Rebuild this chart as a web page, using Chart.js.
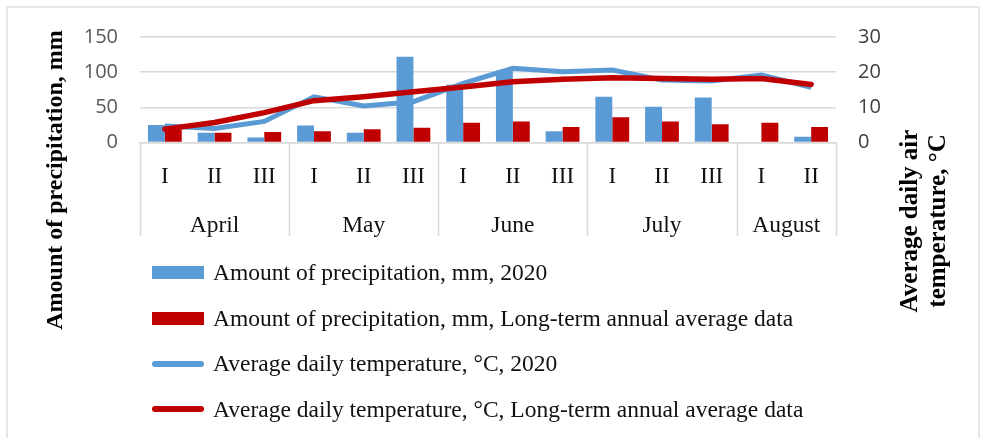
<!DOCTYPE html>
<html>
<head>
<meta charset="utf-8">
<script src="https://cdn.jsdelivr.net/npm/chart.js@4"></script>
<style>
  html, body { margin: 0; padding: 0; background: #fff; }
  #wrap { position: relative; width: 986px; height: 438px; overflow: hidden; }
  #frame { position: absolute; left: 6px; top: 6px; width: 974px; height: 460px; border: 2px solid #e6e6e6; box-sizing: border-box; }
  canvas { position: absolute; left: 0; top: 0; }
  #legend { position: absolute; left: 152px; top: 250px; font-family: 'Liberation Serif', 'Times New Roman', serif; font-size: 23.5px; color: #111; }
  .item { height: 45.5px; display: flex; align-items: center; white-space: nowrap; }
  .swatch { width: 52px; margin-right: 9px; }
</style>
</head>
<body>
<div id="wrap">
  <div id="frame"></div>
  <canvas id="chart" width="986" height="438"></canvas>
  <div id="legend"></div>
</div>
<script>
// data
const periods = ['I', 'II', 'III', 'I', 'II', 'III', 'I', 'II', 'III', 'I', 'II', 'III', 'I', 'II'];
const months = ['April', 'May', 'June', 'July', 'August'];
const monthSpans = [3, 3, 3, 3, 2];

const precip2020 = [25, 14, 7, 24, 14, 122, 82, 102, 16, 65, 51, 64, 0, 8];
const precipLongTerm = [18, 14, 15, 16, 19, 21, 28, 30, 22, 36, 30, 26, 28, 22];
const temp2020 = [4.7, 4.0, 6.0, 13, 10.4, 11.6, 16.8, 21.1, 20.1, 20.6, 17.8, 17.5, 19.2, 15.7];
const tempLongTerm = [3.8, 5.7, 8.5, 11.9, 13, 14.4, 15.8, 17.3, 18, 18.4, 18.2, 18, 18.2, 16.5];

const precipTicks = [0, 50, 100, 150];
const tempTicks = [0, 10, 20, 30];

const BLUE = '#5B9BD5';
const RED = '#C00000';
const GRID = '#d9d9d9';
const SERIF = "'Liberation Serif', 'Times New Roman', serif";

// month row + separators under the I/II/III labels
const monthAxis = {
  id: 'monthAxis',
  afterDraw(chart) {
    const ctx = chart.ctx;
    const x = chart.scales.x;
    const step = (x.right - x.left) / periods.length;
    const top = chart.chartArea.bottom;
    const bottom = 236;
    ctx.save();
    ctx.strokeStyle = GRID;
    ctx.lineWidth = 1.5;
    let idx = 0;
    const edges = [x.getPixelForValue(0) - step / 2];
    monthSpans.forEach(n => {
      idx += n;
      edges.push(x.getPixelForValue(idx - 1) + step / 2);
    });
    edges.forEach(px => {
      ctx.beginPath();
      ctx.moveTo(Math.round(px) + 0.5, top);
      ctx.lineTo(Math.round(px) + 0.5, bottom);
      ctx.stroke();
    });
    ctx.fillStyle = '#111';
    ctx.font = '23.5px ' + SERIF;
    ctx.textAlign = 'center';
    ctx.textBaseline = 'middle';
    months.forEach((m, i) => {
      ctx.fillText(m, (edges[i] + edges[i + 1]) / 2, 226);
    });
    ctx.restore();
  }
};

// rotated axis titles
const axisTitles = {
  id: 'axisTitles',
  afterDraw(chart) {
    const ctx = chart.ctx;
    ctx.save();
    ctx.fillStyle = '#000';
    ctx.font = 'bold 24px ' + SERIF;
    ctx.textAlign = 'center';
    ctx.textBaseline = 'middle';
    ctx.translate(56, 180);
    ctx.rotate(-Math.PI / 2);
    ctx.fillText('Amount of precipitation, mm', 0, 0);
    ctx.restore();

    ctx.save();
    ctx.fillStyle = '#000';
    ctx.font = 'bold 25px ' + SERIF;
    ctx.textAlign = 'center';
    ctx.textBaseline = 'middle';
    ctx.translate(911, 221);
    ctx.rotate(-Math.PI / 2);
    ctx.fillText('Average daily air', 0, 0);
    ctx.fillText('temperature, °C', 0, 28);
    ctx.restore();
  }
};

document.addEventListener('DOMContentLoaded', function () {
  const config = {
    data: {
      labels: periods,
      datasets: [
        {
          type: 'bar',
          label: 'Amount of precipitation, mm, 2020',
          data: precip2020,
          backgroundColor: BLUE,
          yAxisID: 'y',
          order: 2,
          categoryPercentage: 0.68,
          barPercentage: 1.0
        },
        {
          type: 'bar',
          label: 'Amount of precipitation, mm, Long-term annual average data',
          data: precipLongTerm,
          backgroundColor: RED,
          yAxisID: 'y',
          order: 3,
          categoryPercentage: 0.68,
          barPercentage: 1.0
        },
        {
          type: 'line',
          label: 'Average daily temperature, °C, 2020',
          data: temp2020,
          borderColor: BLUE,
          backgroundColor: BLUE,
          borderWidth: 5,
          pointRadius: 0,
          tension: 0,
          yAxisID: 'y1',
          order: 1
        },
        {
          type: 'line',
          label: 'Average daily temperature, °C, Long-term annual average data',
          data: tempLongTerm,
          borderColor: RED,
          backgroundColor: RED,
          borderWidth: 5.5,
          pointRadius: 0,
          tension: 0,
          borderCapStyle: 'round',
          yAxisID: 'y1',
          order: 0
        }
      ]
    },
    options: {
      responsive: false,
      animation: false,
      layout: { padding: { top: 37, left: 0, right: 0, bottom: 0 } },
      plugins: {
        legend: { display: false },
        tooltip: { enabled: false }
      },
      scales: {
        x: {
          grid: { display: false },
          border: { display: true, color: GRID, width: 1.5 },
          ticks: {
            color: '#111',
            padding: 13,
            maxRotation: 0,
            autoSkip: false,
            font: { family: SERIF, size: 23 }
          },
          afterFit: function (scale) { scale.height = 295.5; }
        },
        y: {
          position: 'left',
          min: 0,
          max: 150,
          afterBuildTicks: function (scale) { scale.ticks = precipTicks.map(v => ({ value: v })); },
          grid: { color: GRID, lineWidth: 1.5, drawTicks: false },
          border: { display: false },
          ticks: {
            color: '#595959',
            padding: 22,
            font: { family: "'Open Sans', sans-serif", size: 20 }
          },
          afterFit: function (scale) { scale.width = 140; }
        },
        y1: {
          position: 'right',
          min: 0,
          max: 30,
          afterBuildTicks: function (scale) { scale.ticks = tempTicks.map(v => ({ value: v })); },
          grid: { display: false, drawTicks: false },
          border: { display: false },
          ticks: {
            color: '#404040',
            padding: 22,
            font: { family: "'Open Sans', sans-serif", size: 20 }
          },
          afterFit: function (scale) { scale.width = 150; }
        }
      }
    },
    plugins: [monthAxis, axisTitles]
  };

  const chart = new Chart(document.getElementById('chart'), config);

  // legend, one row per series, built from the datasets
  const legend = document.getElementById('legend');
  chart.data.datasets.forEach(ds => {
    const row = document.createElement('div');
    row.className = 'item';
    const sw = document.createElement('span');
    sw.className = 'swatch';
    sw.style.background = ds.backgroundColor;
    if (ds.type === 'bar') {
      sw.style.height = '13px';
    } else {
      sw.style.height = '6px';
      sw.style.borderRadius = '3px';
    }
    const txt = document.createElement('span');
    txt.textContent = ds.label;
    row.appendChild(sw);
    row.appendChild(txt);
    legend.appendChild(row);
  });
});
</script>
</body>
</html>
